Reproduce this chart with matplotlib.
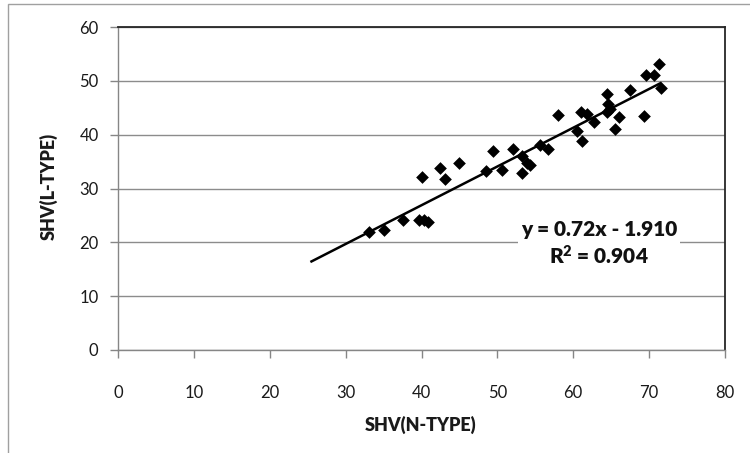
import matplotlib
matplotlib.use("Agg")
import matplotlib.pyplot as plt
from matplotlib.patches import Rectangle
import numpy as np

# Data
shv_n = [33.1, 35.0, 37.5, 39.7, 40.3, 40.9, 40.0, 42.5, 43.1, 45.0,
         48.5, 49.4, 50.6, 52.1, 53.3, 53.2, 53.9, 54.3, 55.6, 56.7,
         58.0, 60.5, 61.0, 61.1, 61.8, 62.8, 64.5, 64.6, 64.8, 64.5,
         65.5, 66.0, 67.5, 69.3, 69.6, 70.6, 71.3, 71.6]
shv_l = [21.9, 22.2, 24.2, 24.1, 24.2, 23.7, 32.2, 33.8, 31.7, 34.7,
         33.2, 37.0, 33.5, 37.3, 36.0, 32.9, 34.8, 34.4, 38.1, 37.3,
         43.7, 40.6, 44.3, 38.8, 43.9, 42.3, 47.5, 45.7, 44.7, 44.2,
         41.1, 43.3, 48.3, 43.4, 51.0, 51.0, 53.1, 48.6]

slope = 0.72
intercept = -1.910
r_squared = 0.904
trend_x_range = [25.5, 71.5]

x_ticks = [0, 10, 20, 30, 40, 50, 60, 70, 80]
y_ticks = [0, 10, 20, 30, 40, 50, 60]

plt.rcParams['font.family'] = ['Lato', 'DejaVu Sans']
plt.rcParams['mathtext.default'] = 'regular'

fig = plt.figure(figsize=(7.5, 4.53), dpi=100)
ax = fig.add_axes([118/750, 1-350/453, (725-118)/750, (350-27)/453])

ax.set_xlim(0, 80)
ax.set_ylim(0, 60)
ax.set_xticks(x_ticks)
ax.set_yticks(y_ticks)

ax.grid(axis='y', color='#8c8c8c', lw=1.0)
ax.set_axisbelow(True)

ax.scatter(shv_n, shv_l, marker='D', s=42, color='black', zorder=3, linewidths=0)

tx = np.array(trend_x_range)
ax.plot(tx, slope*tx + intercept, color='black', lw=1.8, zorder=4)

ax.text(63.4, 19.7, f"y = {slope:.2f}x - {abs(intercept):.3f}\nR$^{{2}}$ = {r_squared:.3f}",
        ha='center', va='center', fontsize=15, fontweight='heavy', linespacing=1.25,
        color='#111111',
        bbox=dict(facecolor='white', edgecolor='none', pad=2), zorder=5)

for side in ['left', 'bottom']:
    ax.spines[side].set_color('#868686')
    ax.spines[side].set_linewidth(1.0)
for side in ['top', 'right']:
    ax.spines[side].set_color('#262626')
    ax.spines[side].set_linewidth(1.3)

ax.tick_params(axis='both', direction='out', length=6, width=1, color='#868686',
               labelsize=12, labelcolor='#1a1a1a')
ax.tick_params(axis='y', pad=8)
ax.tick_params(axis='x', pad=19)

fig.text(421/750, 1-425/453, "SHV(N-TYPE)", ha='center', va='center',
         fontsize=13, fontweight='heavy', color='#1a1a1a')
fig.text(49/750, 1-186/453, "SHV(L-TYPE)", ha='center', va='center',
         rotation=90, fontsize=13, fontweight='heavy', color='#1a1a1a')

# Outer chart-area border (cropped at right and bottom in reference)
fig.add_artist(Rectangle((8/750, -0.1), 1.2, 1.1 - 4/453, transform=fig.transFigure,
                         fill=False, edgecolor='#a0a0a0', lw=1.0))

fig.savefig("out.png", dpi=100)
